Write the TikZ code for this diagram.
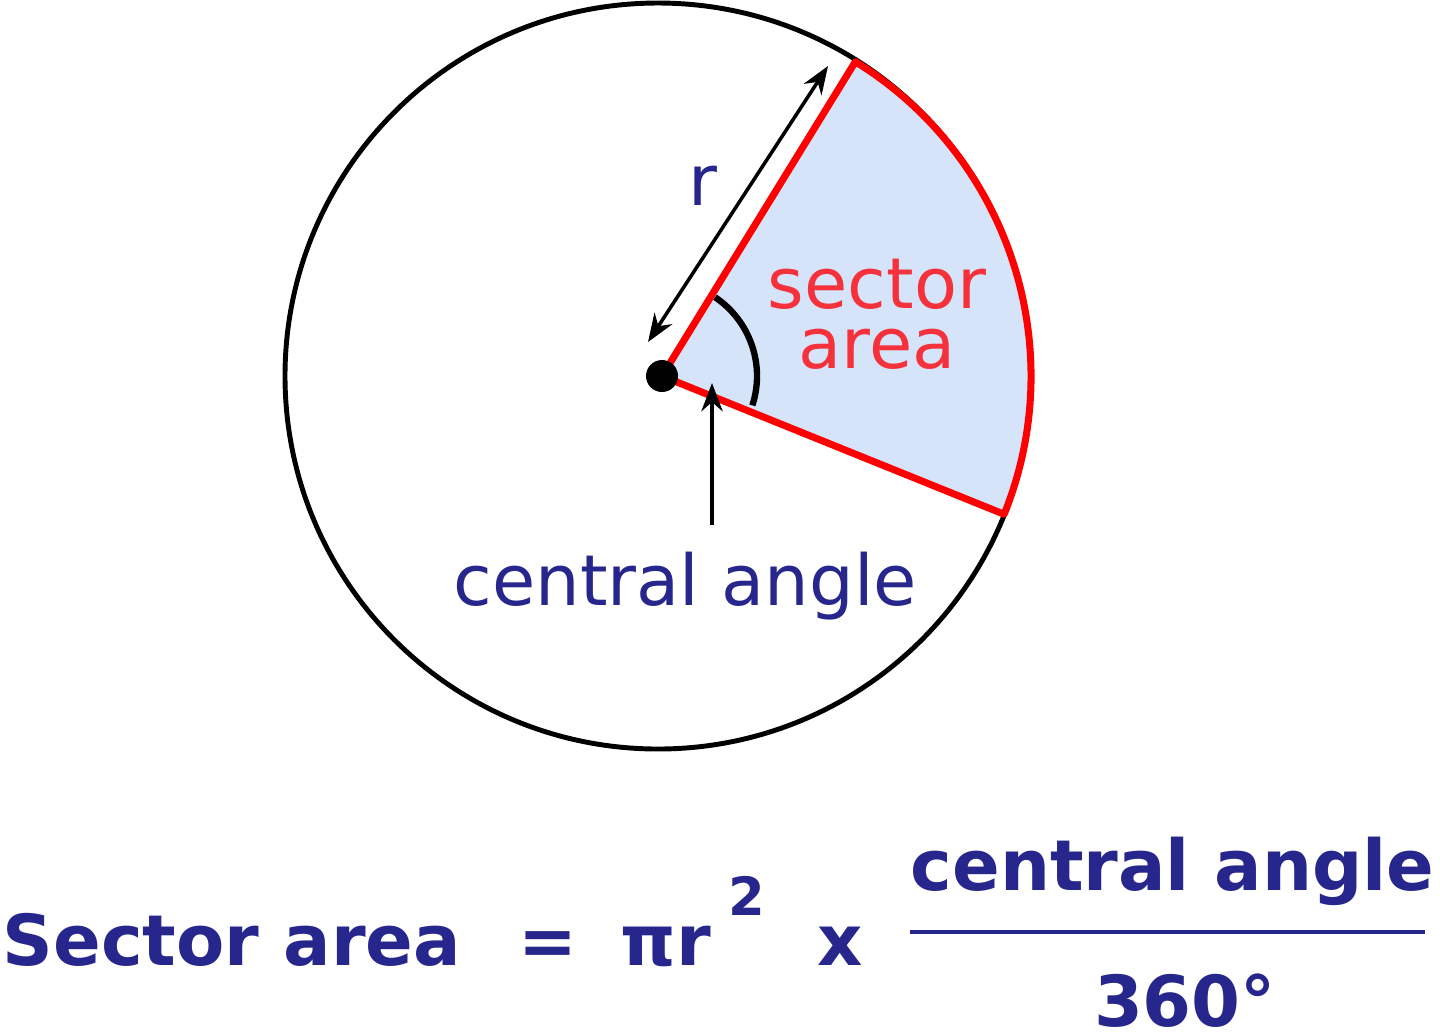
\documentclass[tikz,border=0pt]{standalone}
\usepackage{fontspec}
\setmainfont{DejaVu Sans}
\usepackage{xcolor}
\definecolor{navy}{RGB}{38,38,140}
\definecolor{sred}{RGB}{255,0,0}
\definecolor{stext}{RGB}{245,50,60}
\definecolor{sfill}{RGB}{214,228,250}
\usepackage{tikz}
\usetikzlibrary{arrows.meta, calc}
\tikzstyle{txt} = [
    inner sep=0pt,
    font=\fontsize{20}{24}\selectfont,
]
\tikzstyle{formula} = [
    txt,
    text=navy,
    font=\fontsize{20}{24}\selectfont\bfseries,
]
\tikzstyle{arrow} = [->,>={Stealth[length=8pt, width=6pt]}]

\begin{document}
\begin{tikzpicture}[x=0.01cm, y=0.01cm]
    \useasboundingbox (0,0) rectangle (1440,-1032);
    \coordinate (c) at (662,-376);
    \coordinate (o) at (658,-376);

    % sector
    \fill [sfill] (c) -- ++(58.4:369) arc[start angle=58.4, end angle=-22, radius=369] -- cycle;
    \draw [line width=1.4pt] (o) circle[radius=373];
    \draw [sred, line width=2pt, line join=round] (c) -- ++(58.4:369) arc[start angle=58.4, end angle=-22, radius=369] -- cycle;
    \draw [line width=1.8pt] ($(c)+(56:95)$) arc[start angle=56, end angle=-18, radius=95];
    \fill (c) circle[radius=16];

    % arrows
    \coordinate (rtop) at (828,-66);
    \coordinate (rbot) at (648,-342);
    \coordinate (ctail) at (712,-525);
    \coordinate (ctip) at (712,-383);
    \draw [arrow, <->, line width=1pt] (rbot) to (rtop);
    \draw [arrow, line width=1.3pt] (ctail) to (ctip);

    % labels
    \node (r) [txt, text=navy, anchor=base] at (703,-205) {r};
    \node (sector) [txt, text=stext, anchor=base] at (877,-308) {sector};
    \node (area) [txt, text=stext, anchor=base] at (877,-368) {area};
    \node (angle) [txt, text=navy, anchor=base west] at (453,-605) {central angle};

    % formula
    \node (lhs) [formula, anchor=base west] at (2,-965) {Sector area};
    \node (eq) [formula, anchor=base] at (548,-965) {=};
    \node (pir) [formula, anchor=base west] at (620,-965) {πr};
    \node (sq) [formula, font=\fontsize{15}{18}\selectfont\bfseries, anchor=base west] at (728,-915) {2};
    \node (times) [formula, anchor=base] at (840,-965) {x};
    \node (num) [formula, anchor=base west] at (910,-890) {central angle};
    \node (den) [formula, anchor=base] at (1185,-1026) {360°};
    \draw [navy, line width=1.1pt] (num.west |- 0,-932) -- (1425,-932);
\end{tikzpicture}
\end{document}
